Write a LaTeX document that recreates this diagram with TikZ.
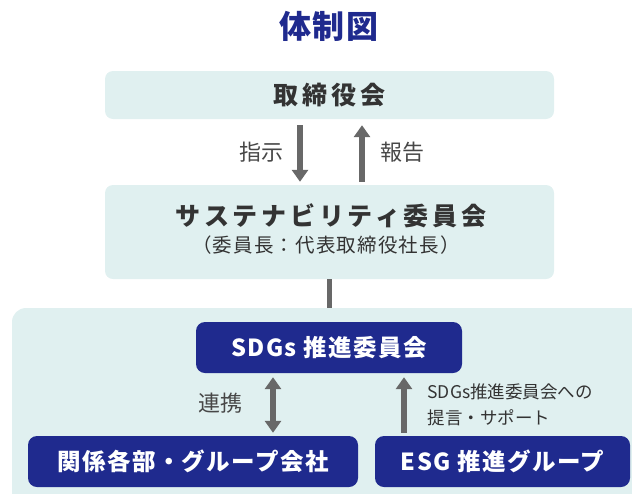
\documentclass[tikz,border=0pt]{standalone}
\usepackage{fontspec}
\setmainfont{Noto Sans CJK JP}
\newfontfamily\jpwide[LetterSpace=15]{Noto Sans CJK JP}
\newfontfamily\jpnarrow[LetterSpace=6]{Noto Sans CJK JP}
\usetikzlibrary{arrows.meta,positioning}

\definecolor{panelcyan}{RGB}{224,240,240}
\definecolor{navy}{RGB}{31,42,142}
\definecolor{arrowgray}{RGB}{104,104,104}
\definecolor{textgray}{RGB}{51,51,51}

\tikzset{
  lightbox/.style={fill=panelcyan, rounded corners=8pt, minimum width=449pt, inner sep=0pt},
  headtext/.style={text=textgray, font=\jpwide\bfseries\fontsize{25}{25}\selectfont},
  navybox/.style={fill=navy, rounded corners=9pt, text=white, minimum height=51pt, inner sep=0pt,
    font=\jpnarrow\bfseries\fontsize{23.5}{23.5}\selectfont},
  flow/.style={draw=arrowgray, line width=5.5pt, -{Triangle[width=16pt,length=12pt]}},
  twoway/.style={flow, {Triangle[width=16pt,length=12pt]}-{Triangle[width=16pt,length=12pt]}},
  tag/.style={text=textgray!90, font=\fontsize{22}{22}\selectfont},
}

\begin{document}
\begin{tikzpicture}[x=1pt,y=-1pt]
\useasboundingbox (0,0) rectangle (632,493);
\clip (0,0) rectangle (632,493);

% background panel of the lower group
\fill[panelcyan, rounded corners=14pt] (12,308) rectangle (660,520);
\coordinate (paneltop) at (329.5,308);

\node[text=navy, font=\jpnarrow\bfseries\fontsize{32}{32}\selectfont] (title) at (329,26) {体制図};

\node[lightbox, minimum height=48pt, headtext] (board) at (329.5,95) {取締役会};
\node[lightbox, minimum height=94pt] (suscom) at (329.5,232) {};
\node[headtext] (susname) at (331,216) {サステナビリティ委員会};
\node[text=textgray, font=\jpnarrow\fontsize{19.5}{19.5}\selectfont] (suschair) at (326,245) {（委員長：代表取締役社長）};

\draw[flow, shorten <=6pt, shorten >=3pt] ([xshift=-29.5pt]board.south) -- ([xshift=-29.5pt]suscom.north);
\draw[flow, shorten <=3pt, shorten >=6pt] ([xshift=32.5pt]suscom.north) -- ([xshift=32.5pt]board.south);
\node[tag] (order) at (261,152) {指示};
\node[tag] (report) at (402,152) {報告};

\draw[draw=arrowgray, line width=5pt] (suscom.south) -- (paneltop);

\node[navybox, minimum width=266pt] (sdgs) at (329,347.5) {SDGs 推進委員会};
\node[navybox, minimum width=330pt] (dept) at (193,461.5) {関係各部・グループ会社};
\node[navybox, minimum width=255pt] (esg) at (502.5,461.5) {ESG 推進グループ};

\draw[twoway, shorten <=4pt, shorten >=3pt] ([xshift=-56pt]sdgs.south) -- ([xshift=80pt]dept.north);
\draw[flow, shorten <=3pt, shorten >=4pt] ([xshift=-98.5pt]esg.north) -- ([xshift=75pt]sdgs.south);
\node[tag] (link) at (220,403) {連携};
\node[text=textgray, font=\fontsize{17.5}{26}\selectfont, align=left, anchor=west] (advice) at (424,405)
  {SDGs推進委員会への\\提言・サポート};
\end{tikzpicture}
\end{document}
